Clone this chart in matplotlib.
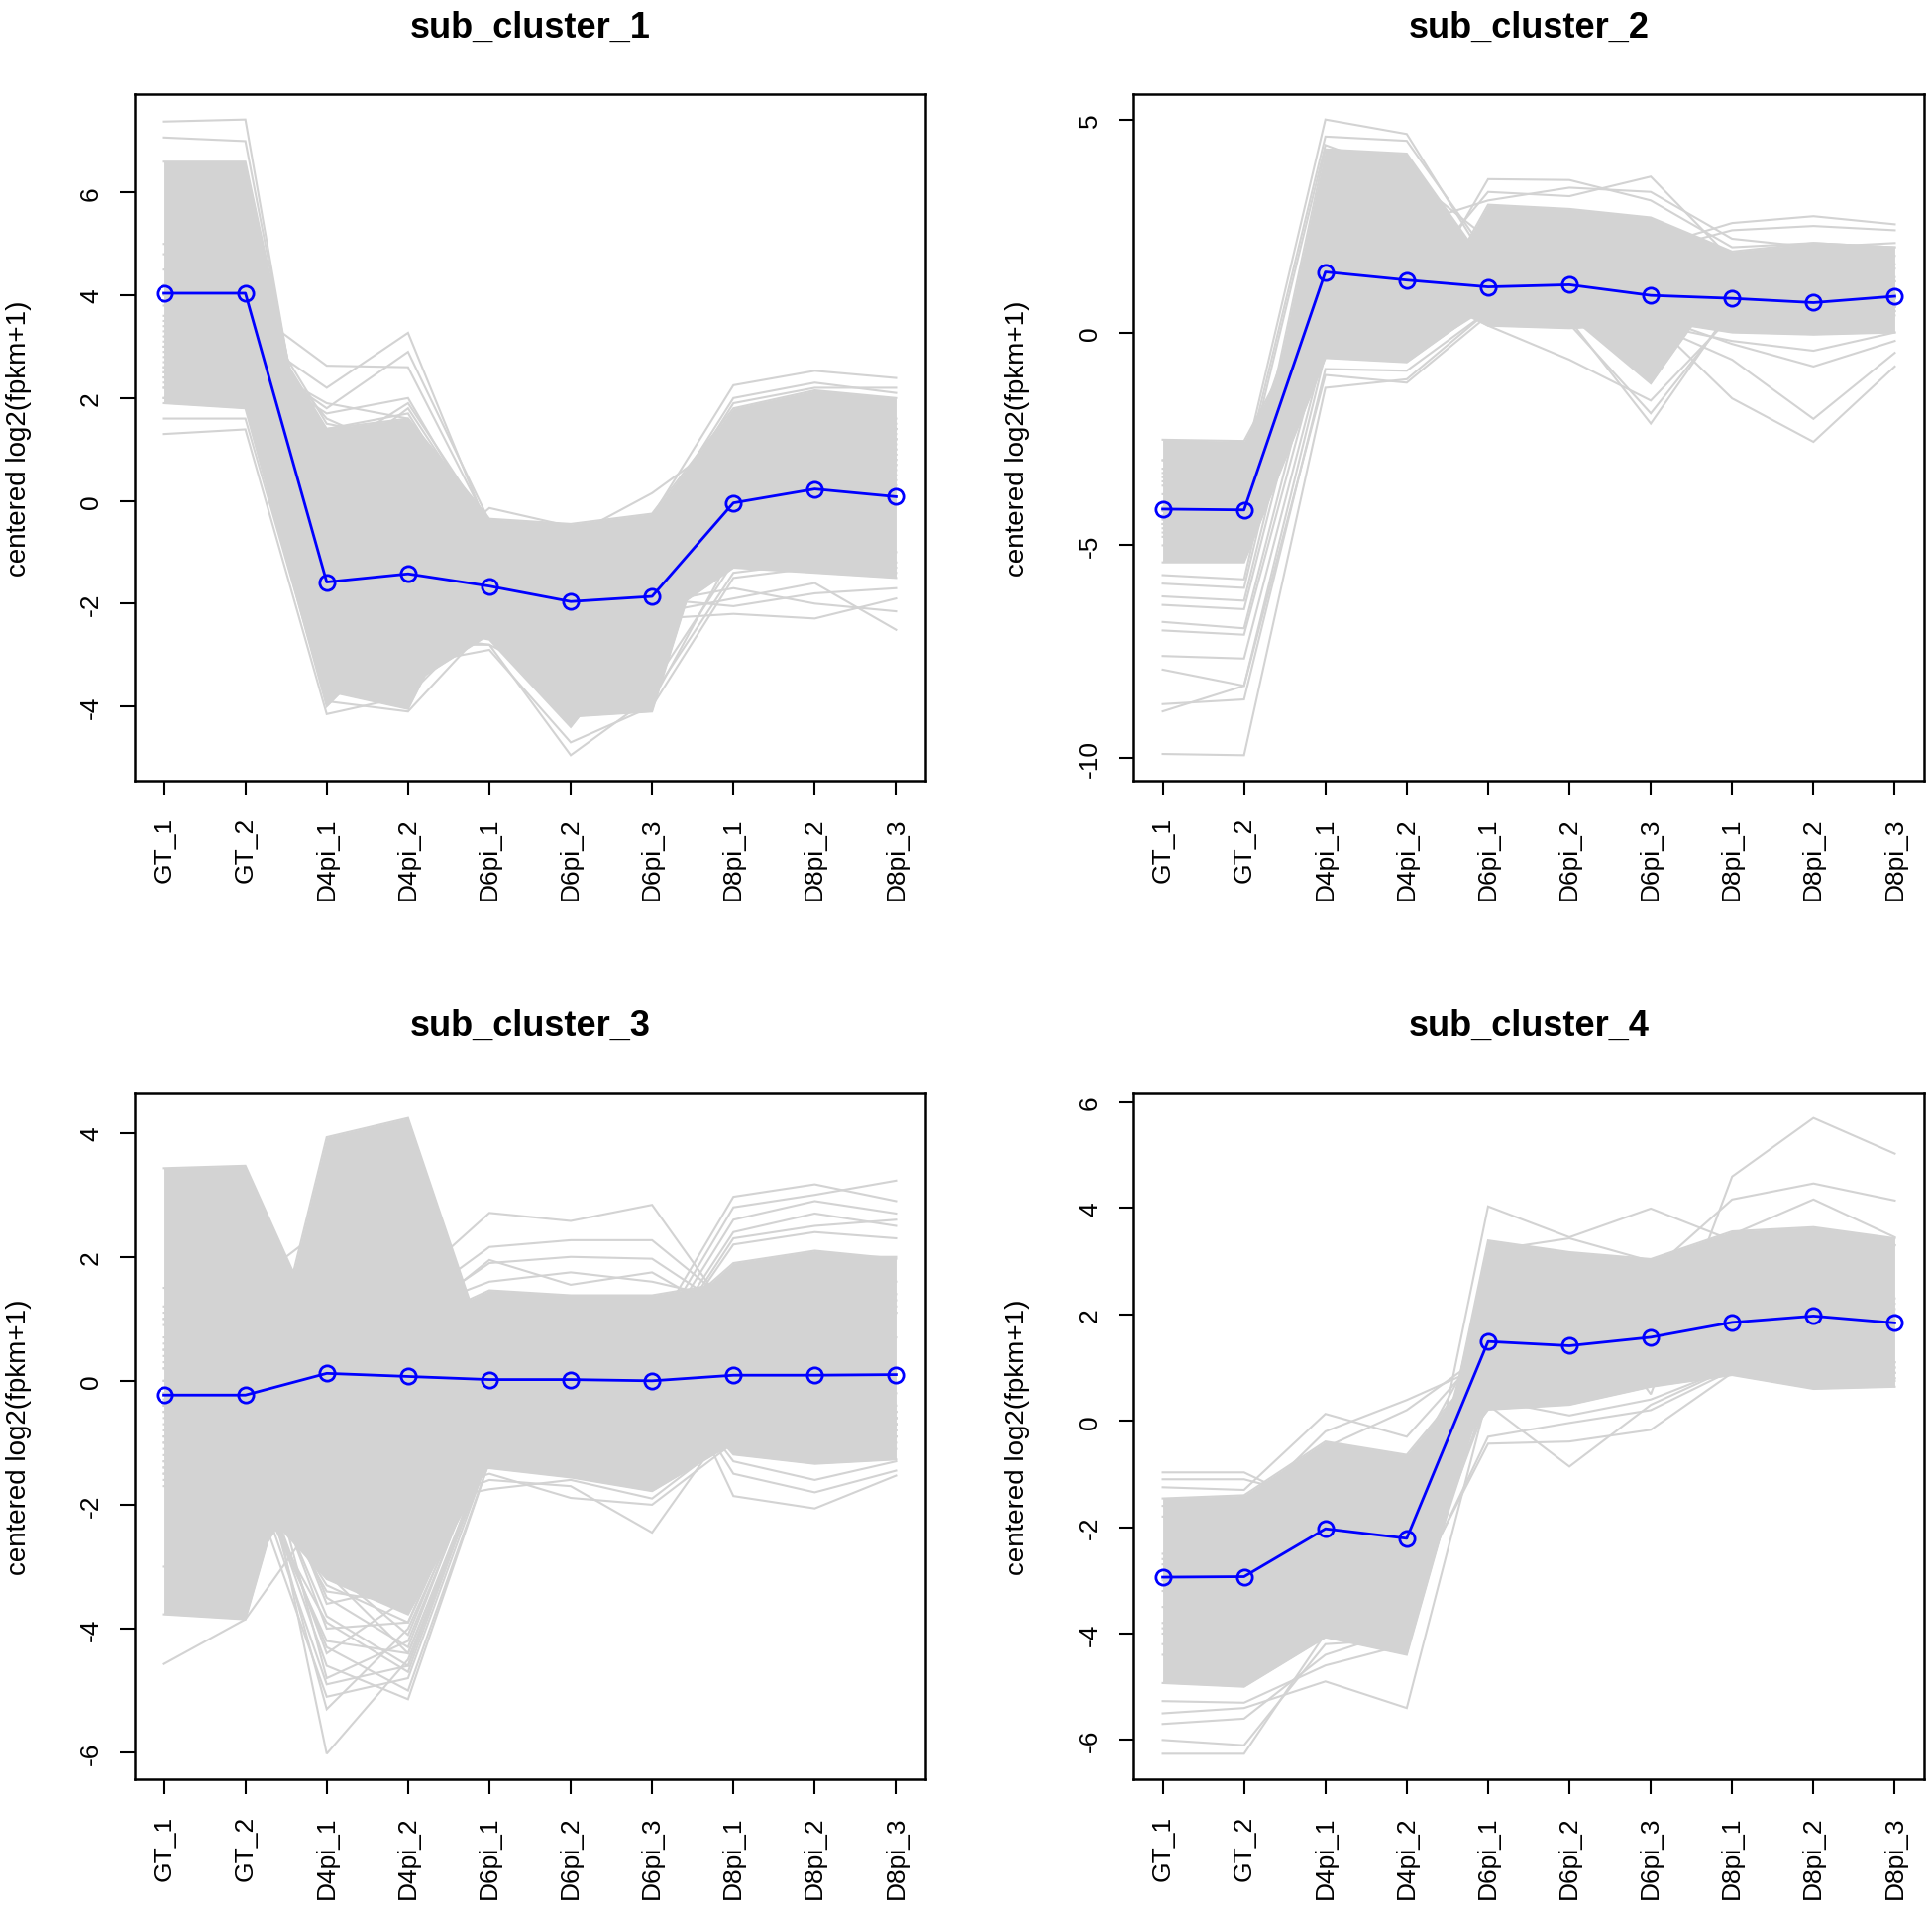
import numpy as np
import matplotlib
matplotlib.use("Agg")
import matplotlib.pyplot as plt
from matplotlib.ticker import MultipleLocator

plt.rcParams["font.family"] = ["Liberation Sans", "DejaVu Sans"]
plt.rcParams["axes.unicode_minus"] = False

samples = ["GT_1", "GT_2", "D4pi_1", "D4pi_2", "D6pi_1",
           "D6pi_2", "D6pi_3", "D8pi_1", "D8pi_2", "D8pi_3"]

titles = ["sub_cluster_1", "sub_cluster_2", "sub_cluster_3", "sub_cluster_4"]
ytick_steps = [2, 5, 2, 2]

# cluster means (blue)
mean1 = [4.04, 4.04, -1.58, -1.42, -1.66, -1.96, -1.86, -0.04, 0.23, 0.08]
mean2 = [-4.15, -4.17, 1.42, 1.23, 1.07, 1.12, 0.87, 0.80, 0.70, 0.85]
mean3 = [-0.23, -0.23, 0.12, 0.07, 0.02, 0.02, 0.00, 0.09, 0.09, 0.10]
mean4 = [-2.94, -2.93, -2.03, -2.21, 1.49, 1.41, 1.57, 1.85, 1.97, 1.84]

# profiles bounding the dense part of each bundle of gene lines
core1 = [
    [6.6, 6.6, -0.8, -0.6, -1.0, -1.3, -1.0, 0.6, 0.9, 0.7],
    [4.0, 4.0, 1.4, 1.6, -0.35, -0.45, -0.25, 1.8, 2.15, 2.0],
    [1.9, 1.8, -4.0, -2.4, -2.7, -4.4, -2.4, -1.3, -1.4, -1.5],
    [3.0, 3.0, -3.7, -4.05, -0.9, -1.2, -1.0, 0.8, 1.1, 0.9],
    [2.5, 2.4, -3.4, -3.6, -2.6, -4.2, -4.1, 1.0, 1.3, 1.1],
]
core2 = [
    [-2.52, -2.55, 1.0, 1.1, 1.0, 1.0, 0.9, 0.8, 0.7, 0.8],
    [-4.5, -4.6, 4.3, 4.2, 1.5, 1.5, 1.3, 1.2, 1.1, 1.2],
    [-5.0, -5.0, -0.4, -0.4, 3.0, 2.9, 2.7, 1.9, 2.1, 2.0],
    [-5.4, -5.4, -0.6, -0.7, 0.67, 0.5, 0.3, 0.0, -0.05, 0.0],
    [-3.0, -3.0, 1.5, 1.1, 0.16, 0.1, 0.2, 0.6, 0.5, 0.6],
    [-4.0, -4.0, 2.0, 1.5, 1.2, 0.4, -1.2, 1.5, 1.0, 1.2],
]
core3 = [
    [3.43, 3.47, 0.55, 0.4, 0.9, 0.9, 1.0, 1.4, 1.7, 1.6],
    [-1.3, -1.39, 3.93, 4.24, 0.35, 0.5, 0.6, 0.6, 0.7, 0.7],
    [-3.77, -3.85, 0.73, 0.5, -0.5, -0.4, -0.3, -0.2, -0.3, -0.2],
    [-1.6, -1.75, -3.2, -3.77, -1.3, -1.2, -1.3, -0.8, -0.9, -0.9],
    [1.0, 1.0, 2.0, 0.86, 1.46, 1.38, 1.38, 1.6, 2.0, 2.0],
    [-3.0, -3.2, -1.0, -1.5, -1.41, -1.56, -1.78, -1.0, -1.1, -1.1],
    [0.0, 0.0, 1.0, 1.0, 0.5, 0.3, 0.3, -1.19, -1.34, -1.27],
    [0.5, 0.5, 1.5, 1.5, 0.8, 0.8, 0.75, 1.9, 2.1, 1.97],
]
core4 = [
    [-1.46, -1.4, -0.39, -0.64, 1.2, 1.3, 1.5, 1.9, 2.0, 1.9],
    [-4.0, -4.1, -2.5, -1.8, 0.21, 0.3, 0.64, 0.86, 0.6, 0.64],
    [-4.93, -5.0, -4.07, -4.4, 1.0, 0.9, 1.0, 1.2, 1.1, 1.1],
    [-3.0, -3.0, -3.5, -3.9, 3.39, 3.17, 3.04, 3.56, 3.64, 3.43],
]

# individual gene lines that stand out from the dense part
lines1 = [
    [7.38, 7.42, -1.6, -1.0, -1.3, -1.6, -1.3, 0.3, 0.6, 0.4],
    [7.07, 7.0, -1.2, -1.4, -1.5, -1.9, -1.6, 0.1, 0.4, 0.3],
    [3.2, 3.8, 2.63, 2.6, -0.5, -0.6, -0.4, 1.5, 1.8, 1.6],
    [3.0, 3.3, 2.2, 3.27, -0.6, -0.8, -0.5, 1.4, 1.7, 1.5],
    [2.8, 2.9, 1.8, 2.9, -0.4, -0.7, -0.6, 1.2, 1.6, 1.4],
    [2.6, 2.7, 1.7, 2.0, -0.7, -0.9, -0.8, 1.0, 1.3, 1.2],
    [3.4, 3.3, 1.4, 1.7, -0.8, -1.0, -0.9, 0.9, 1.2, 1.0],
    [2.2, 2.3, 1.0, 1.3, -1.0, -1.2, -1.1, 0.7, 1.0, 0.8],
    [2.0, 2.1, 0.6, 1.8, -0.6, -0.9, -0.7, 1.1, 1.4, 1.2],
    [3.6, 3.5, 1.6, 0.9, -0.9, -1.1, -1.0, 0.5, 0.8, 0.6],
    [4.5, 4.4, 0.5, 0.4, -1.1, -1.4, -1.2, 0.4, 0.7, 0.5],
    [2.9, 3.0, 0.3, 1.1, -0.9, -1.2, -1.0, 0.9, 1.2, 1.0],
    [3.8, 3.7, 1.2, 0.6, -1.0, -1.3, -1.1, 0.6, 0.9, 0.7],
    [2.4, 2.5, 0.9, 1.9, -0.5, -0.8, -0.7, 1.3, 1.6, 1.4],
    [4.2, 4.1, 1.5, 1.2, -0.7, -1.0, -0.8, 0.8, 1.1, 0.9],
    [2.7, 2.8, 1.9, 1.6, -0.45, -0.7, -0.5, 1.1, 1.4, 1.2],
    [3.9, 3.8, 0.7, 1.5, -0.8, -1.1, -0.9, 0.7, 1.0, 0.8],
    [1.6, 1.6, -3.9, -4.1, -2.4, -3.8, -3.6, -1.2, -1.1, -1.2],
    [1.3, 1.39, -4.15, -3.8, -2.2, -3.5, -3.9, -1.0, -0.8, -1.0],
    [5.0, 5.1, -2.0, -1.5, -0.14, -0.5, -0.3, 1.2, 1.5, 1.3],
    [4.8, 4.9, -1.5, -1.2, -0.6, -0.7, 0.15, 1.3, 1.6, 1.4],
    [2.3, 2.4, -3.0, -2.6, -2.8, -4.95, -3.8, -1.4, -1.2, -1.3],
    [2.0, 2.0, -3.5, -3.2, -2.9, -4.7, -4.0, -1.5, -1.3, -1.4],
    [2.4, 2.3, -2.5, -2.8, -2.8, -3.6, -2.3, -2.2, -2.29, -1.9],
    [2.6, 2.5, -2.8, -3.0, -2.6, -3.5, -2.2, -1.9, -1.6, -2.51],
    [2.2, 2.1, -2.2, -2.5, -2.4, -3.2, -2.0, -1.7, -2.0, -2.15],
    [2.5, 2.4, -2.4, -2.6, -2.5, -3.0, -1.9, -2.05, -1.8, -1.7],
    [3.5, 3.4, -1.2, -1.0, -0.5, -0.6, -0.3, 2.25, 2.53, 2.39],
    [3.3, 3.2, -1.1, -0.9, -0.6, -0.8, -0.5, 2.0, 2.3, 2.1],
    [3.1, 3.0, -1.0, -0.8, -0.7, -0.9, -0.6, 1.9, 2.2, 2.2],
]
lines2 = [
    [-9.9, -9.93, -1.3, -1.1, 0.5, 0.3, 0.2, 0.4, 0.3, 0.5],
    [-8.9, -8.3, -1.0, -1.18, 0.4, 0.2, 0.0, 0.3, 0.2, 0.4],
    [-8.73, -8.62, -0.86, -0.9, 0.5, 0.4, 0.3, 0.5, 0.4, 0.6],
    [-7.92, -8.3, -0.5, -0.6, 0.6, 0.5, 0.4, 0.6, 0.5, 0.7],
    [-7.6, -7.66, -0.3, -0.4, 0.7, 0.6, 0.5, 0.7, 0.6, 0.7],
    [-7.0, -7.1, 0.0, 0.2, 0.8, 0.7, 0.6, 0.7, 0.6, 0.8],
    [-6.8, -6.95, 0.5, 0.6, 0.9, 0.8, 0.7, 0.8, 0.7, 0.8],
    [-6.4, -6.5, 1.0, 1.0, 1.0, 0.9, 0.8, 0.9, 0.8, 0.9],
    [-6.2, -6.3, 1.5, 1.4, 1.1, 1.0, 0.9, 0.9, 0.8, 0.9],
    [-5.9, -6.0, 2.0, 1.8, 1.2, 1.1, 1.0, 1.0, 0.9, 1.0],
    [-5.7, -5.8, 2.5, 2.2, 1.3, 1.2, 1.1, 1.0, 0.9, 1.0],
    [-3.0, -3.1, 5.0, 4.66, 1.6, 1.5, 1.4, 1.3, 1.2, 1.3],
    [-3.3, -3.3, 4.6, 4.5, 1.8, 1.7, 1.6, 1.5, 1.4, 1.5],
    [-3.5, -3.5, 4.4, 3.7, 2.2, 2.0, 1.8, 1.6, 1.5, 1.6],
    [-4.2, -4.2, 0.5, 0.3, 3.6, 3.58, 3.1, 2.0, 2.1, 2.0],
    [-4.4, -4.4, 0.8, 1.0, 3.3, 3.2, 3.66, 1.7, 1.9, 1.8],
    [-4.1, -4.1, 1.2, 2.5, 3.1, 3.4, 3.3, 2.2, 2.0, 2.1],
    [-3.8, -3.8, 1.6, 1.3, 0.4, 0.3, -2.14, 0.6, 0.7, 0.8],
    [-4.3, -4.3, 1.8, 1.4, 0.5, 0.2, -1.9, 0.5, 0.5, 0.6],
    [-3.6, -3.6, 1.3, 1.2, 0.16, -0.64, -1.6, 0.4, 0.4, 0.5],
    [-3.4, -3.4, 2.5, 2.2, 2.0, 2.1, 2.0, 2.57, 2.73, 2.54],
    [-3.2, -3.2, 2.3, 2.1, 1.8, 1.9, 1.9, 2.4, 2.5, 2.4],
    [-4.6, -4.6, 1.0, 0.9, 0.6, 0.5, 0.3, -1.55, -2.57, -0.8],
    [-4.8, -4.8, 0.8, 0.8, 0.5, 0.4, 0.2, -0.64, -2.03, -0.48],
    [-4.7, -4.7, 0.9, 0.8, 0.6, 0.5, 0.4, -0.27, -0.8, -0.2],
    [-4.5, -4.5, 0.7, 0.7, 0.5, 0.3, 0.2, -0.2, -0.43, 0.0],
]
lines3 = [
    [-4.57, -3.85, -2.0, -2.5, -1.0, -0.9, -0.8, -0.6, -0.7, -0.6],
    [0.2, 0.27, -6.02, -4.5, -1.2, -1.0, -0.9, -0.7, -0.8, -0.7],
    [-0.5, -0.5, -5.3, -4.0, -1.1, -1.0, -0.9, -0.7, -0.8, -0.7],
    [-0.8, -0.9, -4.6, -5.14, -1.3, -1.2, -1.1, -0.9, -1.0, -0.9],
    [-1.0, -1.1, -4.9, -4.6, -1.0, -0.9, -0.8, -0.6, -0.7, -0.6],
    [-1.2, -1.3, -4.2, -4.4, -1.2, -1.1, -1.0, -0.8, -0.9, -0.8],
    [-1.4, -1.5, -3.9, -4.7, -1.1, -1.0, -0.9, -0.7, -0.8, -0.7],
    [-0.3, -0.4, -3.5, -4.3, -0.9, -0.8, -0.7, -0.5, -0.6, -0.5],
    [-1.1, -1.2, -3.3, -3.9, -1.0, -0.9, -0.8, -0.6, -0.7, -0.6],
    [-0.7, -0.8, -4.4, -3.5, -0.8, -0.7, -0.6, -0.4, -0.5, -0.4],
    [-0.9, -1.0, -3.0, -4.1, -0.9, -0.8, -0.7, -0.5, -0.6, -0.5],
    [-0.2, -0.3, -3.6, -3.3, -1.0, -0.9, -0.8, -0.6, -0.7, -0.6],
    [-0.6, -0.7, -3.8, -4.6, -1.1, -1.0, -0.9, -0.7, -0.8, -0.7],
    [-1.0, -1.1, -3.4, -3.6, -1.2, -1.1, -1.0, -0.8, -0.9, -0.8],
    [-0.4, -0.5, -4.0, -3.9, -0.9, -0.8, -0.7, -0.5, -0.6, -0.5],
    [-1.3, -1.4, -5.1, -4.8, -1.2, -1.1, -1.0, -0.8, -0.9, -0.8],
    [0.0, 0.1, -4.8, -4.2, -1.0, -0.9, -0.8, -0.6, -0.7, -0.6],
    [-0.9, -1.0, -4.3, -5.0, -1.3, -1.2, -1.1, -0.9, -1.0, -0.9],
    [-1.5, -1.6, -3.1, -4.4, -1.1, -1.0, -0.9, -0.7, -0.8, -0.7],
    [1.5, 1.5, 2.5, 1.53, 2.71, 2.58, 2.84, 1.0, 1.2, 1.1],
    [1.2, 1.2, 2.2, 1.2, 2.16, 2.27, 2.27, 1.2, 1.4, 1.3],
    [1.1, 1.1, 2.0, 1.0, 1.9, 2.0, 1.97, 1.1, 1.3, 1.2],
    [1.0, 1.0, 1.8, 1.1, 1.6, 1.75, 1.6, 1.3, 1.5, 1.4],
    [0.9, 0.9, 1.7, 0.9, 1.95, 1.55, 1.75, 1.0, 1.2, 1.1],
    [-1.5, -1.6, -1.0, -2.0, -1.75, -1.6, -1.9, -0.9, -1.0, -0.9],
    [-1.7, -1.8, -1.2, -1.9, -1.5, -1.89, -2.0, -1.0, -1.1, -1.0],
    [-1.4, -1.5, -1.1, -2.1, -1.6, -1.7, -2.45, -0.6, -0.8, -0.7],
    [-0.5, -0.6, 0.5, 0.3, 0.8, 0.7, 0.93, -1.86, -2.06, -1.53],
    [-0.4, -0.5, 0.4, 0.2, 0.6, 0.5, 0.6, -1.5, -1.8, -1.45],
    [-0.2, -0.3, 0.3, 0.1, 0.4, 0.3, 0.4, -1.3, -1.6, -1.3],
    [0.6, 0.6, 1.6, 1.4, 0.9, 0.9, 0.75, 2.97, 3.17, 2.9],
    [0.7, 0.7, 1.4, 1.3, 0.8, 0.7, 0.6, 2.8, 3.0, 3.23],
    [0.5, 0.5, 1.3, 1.2, 0.7, 0.6, 0.5, 2.6, 2.9, 2.7],
    [0.4, 0.4, 1.2, 1.1, 0.6, 0.5, 0.4, 2.4, 2.7, 2.5],
    [0.3, 0.3, 1.1, 1.0, 0.5, 0.4, 0.3, 2.3, 2.5, 2.6],
    [0.2, 0.2, 1.0, 0.9, 0.5, 0.4, 0.3, 2.2, 2.4, 2.3],
]
lines4 = [
    [-0.97, -0.97, -1.7, -1.2, 1.5, 1.6, 1.7, 2.0, 2.1, 2.0],
    [-1.1, -1.1, -1.5, -1.0, 1.8, 1.7, 1.8, 2.2, 2.3, 2.2],
    [-1.25, -1.3, 0.13, -0.3, 1.4, 1.5, 1.6, 2.1, 2.2, 2.1],
    [-1.6, -1.7, -0.2, 0.39, 1.07, 1.2, 1.4, 2.0, 2.1, 2.0],
    [-1.8, -1.9, -0.5, 0.2, 1.3, 1.4, 1.6, 2.3, 2.4, 2.3],
    [-5.27, -5.3, -4.6, -4.2, 0.8, 0.9, 1.0, 1.1, 1.0, 1.0],
    [-5.7, -5.6, -4.4, -3.9, 0.9, 1.0, 1.1, 1.2, 1.1, 1.1],
    [-6.0, -6.1, -4.2, -4.1, 0.6, 0.7, 0.9, 1.0, 0.9, 0.9],
    [-6.26, -6.26, -4.0, -3.8, 0.7, 0.8, 0.8, 1.1, 1.0, 1.0],
    [-5.5, -5.4, -4.9, -5.4, 0.5, 0.6, 0.8, 1.0, 0.9, 0.9],
    [-3.5, -3.5, -3.0, -3.4, 4.03, 3.45, 3.99, 3.39, 3.5, 3.3],
    [-3.2, -3.2, -3.3, -3.6, 3.2, 3.43, 3.0, 3.3, 3.4, 3.3],
    [-2.6, -2.6, -2.0, -2.5, 2.4, 2.6, 0.5, 4.59, 5.69, 5.02],
    [-2.5, -2.4, -2.2, -2.6, 2.6, 2.7, 2.8, 4.16, 4.46, 4.14],
    [-2.7, -2.8, -2.4, -2.8, 2.8, 2.9, 3.0, 3.5, 4.16, 3.45],
    [-3.8, -3.8, -3.2, -3.0, 0.3, -0.86, 0.3, 1.0, 0.9, 0.9],
    [-4.2, -4.1, -3.6, -3.4, -0.43, -0.39, -0.17, 0.9, 0.8, 0.8],
    [-3.9, -4.0, -3.8, -3.5, -0.3, -0.04, 0.2, 0.95, 0.7, 0.8],
    [-4.4, -4.5, -3.9, -3.7, 0.4, 0.1, 0.4, 1.0, 0.7, 0.75],
]

means = [mean1, mean2, mean3, mean4]
cores = [core1, core2, core3, core4]
extras = [lines1, lines2, lines3, lines4]

GREY = "#D3D3D3"
W, H = 1950, 1924
boxes = [(136, 96), (1144, 96), (136, 1104), (1144, 1104)]
AW, AH = 798, 693


def draw_panel(ax, title, mean, core, extra, step):
    x = np.arange(1, len(samples) + 1)
    # dense part: region covered by the bounding profiles
    xf = np.linspace(1, len(samples), 1801)
    prof = np.array([np.interp(xf, x, p) for p in core])
    ax.fill_between(xf, prof.min(axis=0), prof.max(axis=0), color=GREY, lw=0)
    for p in core + extra:
        ax.plot(x, p, color=GREY, lw=1.5, solid_joinstyle="miter")
    ax.plot(x, mean, color="blue", lw=2, marker="o", ms=11,
            mfc="none", mec="blue", mew=2)

    allv = np.concatenate([np.ravel(core), np.ravel(extra), mean])
    lo, hi = allv.min(), allv.max()
    pad = 0.04 * (hi - lo)
    ax.set_ylim(lo - pad, hi + pad)
    ax.set_xlim(1 - 0.36, len(samples) + 0.36)

    ax.set_xticks(x)
    ax.set_xticklabels(samples, rotation=90)
    ax.yaxis.set_major_locator(MultipleLocator(step))
    ax.tick_params(direction="out", length=11, width=1.5, labelsize=19)
    ax.tick_params(axis="x", pad=15)
    ax.tick_params(axis="y", pad=12)
    for lab in ax.get_yticklabels():
        lab.set_rotation(90)
        lab.set_va("center")
    for s in ax.spines.values():
        s.set_linewidth(1.8)

    ax.set_ylabel("centered log2(fpkm+1)", fontsize=20)
    ax.yaxis.set_label_coords(-117 / AW, 0.5)
    ax.yaxis.label.set_va("center")
    ax.text(0.5, 1 + 68 / AH, title, transform=ax.transAxes, ha="center",
            va="center", fontsize=26, fontweight="bold")


fig = plt.figure(figsize=(W / 100, H / 100), dpi=100)
for i in range(4):
    left, top = boxes[i]
    ax = fig.add_axes([left / W, 1 - (top + AH) / H, AW / W, AH / H])
    draw_panel(ax, titles[i], means[i], cores[i], extras[i], ytick_steps[i])

fig.savefig("out.png", dpi=100)
